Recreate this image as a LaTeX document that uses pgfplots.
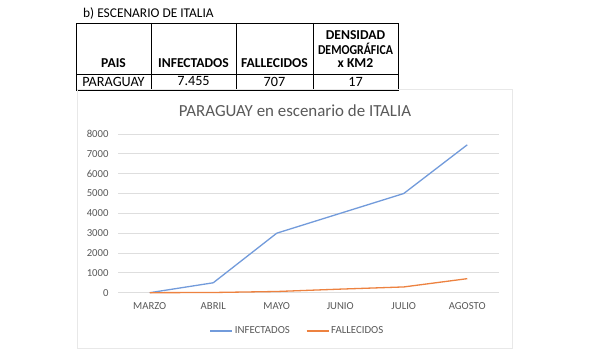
\documentclass[border=0pt]{standalone}
\usepackage{pgfplots}
\pgfplotsset{compat=1.18}
\usepackage{fontspec}
\setmainfont{Carlito}
\definecolor{infblue}{RGB}{114,155,219}
\definecolor{falorange}{RGB}{237,130,64}
\definecolor{gridgray}{RGB}{222,222,222}
\definecolor{txtgray}{RGB}{89,89,89}
\definecolor{boxgray}{RGB}{232,232,232}
\begin{document}
\begin{tikzpicture}[x=1pt,y=1pt]
% canvas
\fill[white] (0,0) rectangle (600,355);
% caption
\node[anchor=base west,inner sep=0pt,font=\fontsize{13.4}{15}\selectfont] at (83,337.5) {b) ESCENARIO DE ITALIA};
% table grid
\draw[black,line width=0.8pt] (76,332) rectangle (398,265);
\draw[black,line width=0.8pt] (76,281) -- (398,281);
\foreach \xx in {151,236,313} \draw[black,line width=0.8pt] (\xx,332) -- (\xx,265);
% header
\begin{scope}[every node/.style={inner sep=0pt,font=\fontsize{13.6}{15}\selectfont\bfseries}]
\node at (113.5,292) {PAIS};
\node at (193.5,292) {INFECTADOS};
\node at (274.5,292) {FALLECIDOS};
\node at (355.5,320) {DENSIDAD};
\node[xscale=0.87] at (355.5,306) {DEMOGRÁFICA};
\node at (355.5,292) {x KM2};
\end{scope}
\begin{scope}[every node/.style={inner sep=0pt,font=\fontsize{14.2}{16}\selectfont}]
\node at (113.5,273.5) {PARAGUAY};
\node at (193.5,273.5) {7.455};
\node at (274.5,273.5) {707};
\node at (355.5,273.5) {17};
\end{scope}
% chart box
\draw[boxgray,line width=0.8pt] (77,266) rectangle (512,7);
% title
\node[font=\fontsize{16.9}{19}\selectfont,text=txtgray,inner sep=0pt] at (295,244) {PARAGUAY en escenario de ITALIA};
\begin{axis}[
  at={(118pt,62.3pt)}, anchor=south west,
  scale only axis, width=381pt, height=158.7pt,
  xmin=-0.5, xmax=5.5, ymin=0, ymax=8000,
  xtick={0,1,2,3,4,5},
  xticklabels={MARZO,ABRIL,MAYO,JUNIO,JULIO,AGOSTO},
  ytick={0,1000,...,8000},
  major tick length=0pt,
  axis line style={draw=none},
  ymajorgrids, grid style={gridgray,line width=0.8pt},
  /pgf/number format/assume math mode=true,
  /pgf/number format/1000 sep={},
  tick label style={font=\fontsize{10.7}{12}\selectfont,text=txtgray},
  yticklabel style={xshift=-6pt},
  xticklabel style={yshift=-6pt},
  clip=false,
  legend columns=2,
  legend style={at={(0.471,-0.241)},anchor=center,draw=none,fill=none,
    font=\fontsize{10.8}{12}\selectfont,text=txtgray,
    /tikz/every even column/.append style={column sep=14pt}},
  legend image code/.code={\draw[#1] (0pt,0pt) -- (22pt,0pt);},
]
\addplot[infblue,line width=1.3pt] coordinates {(0,0) (1,500) (2,3000) (3,4000) (4,5000) (5,7455)};
\addlegendentry{INFECTADOS}
\addplot[falorange,line width=1.3pt] coordinates {(0,0) (1,10) (2,60) (3,180) (4,290) (5,707)};
\addlegendentry{FALLECIDOS}
\end{axis}
\end{tikzpicture}
\end{document}
